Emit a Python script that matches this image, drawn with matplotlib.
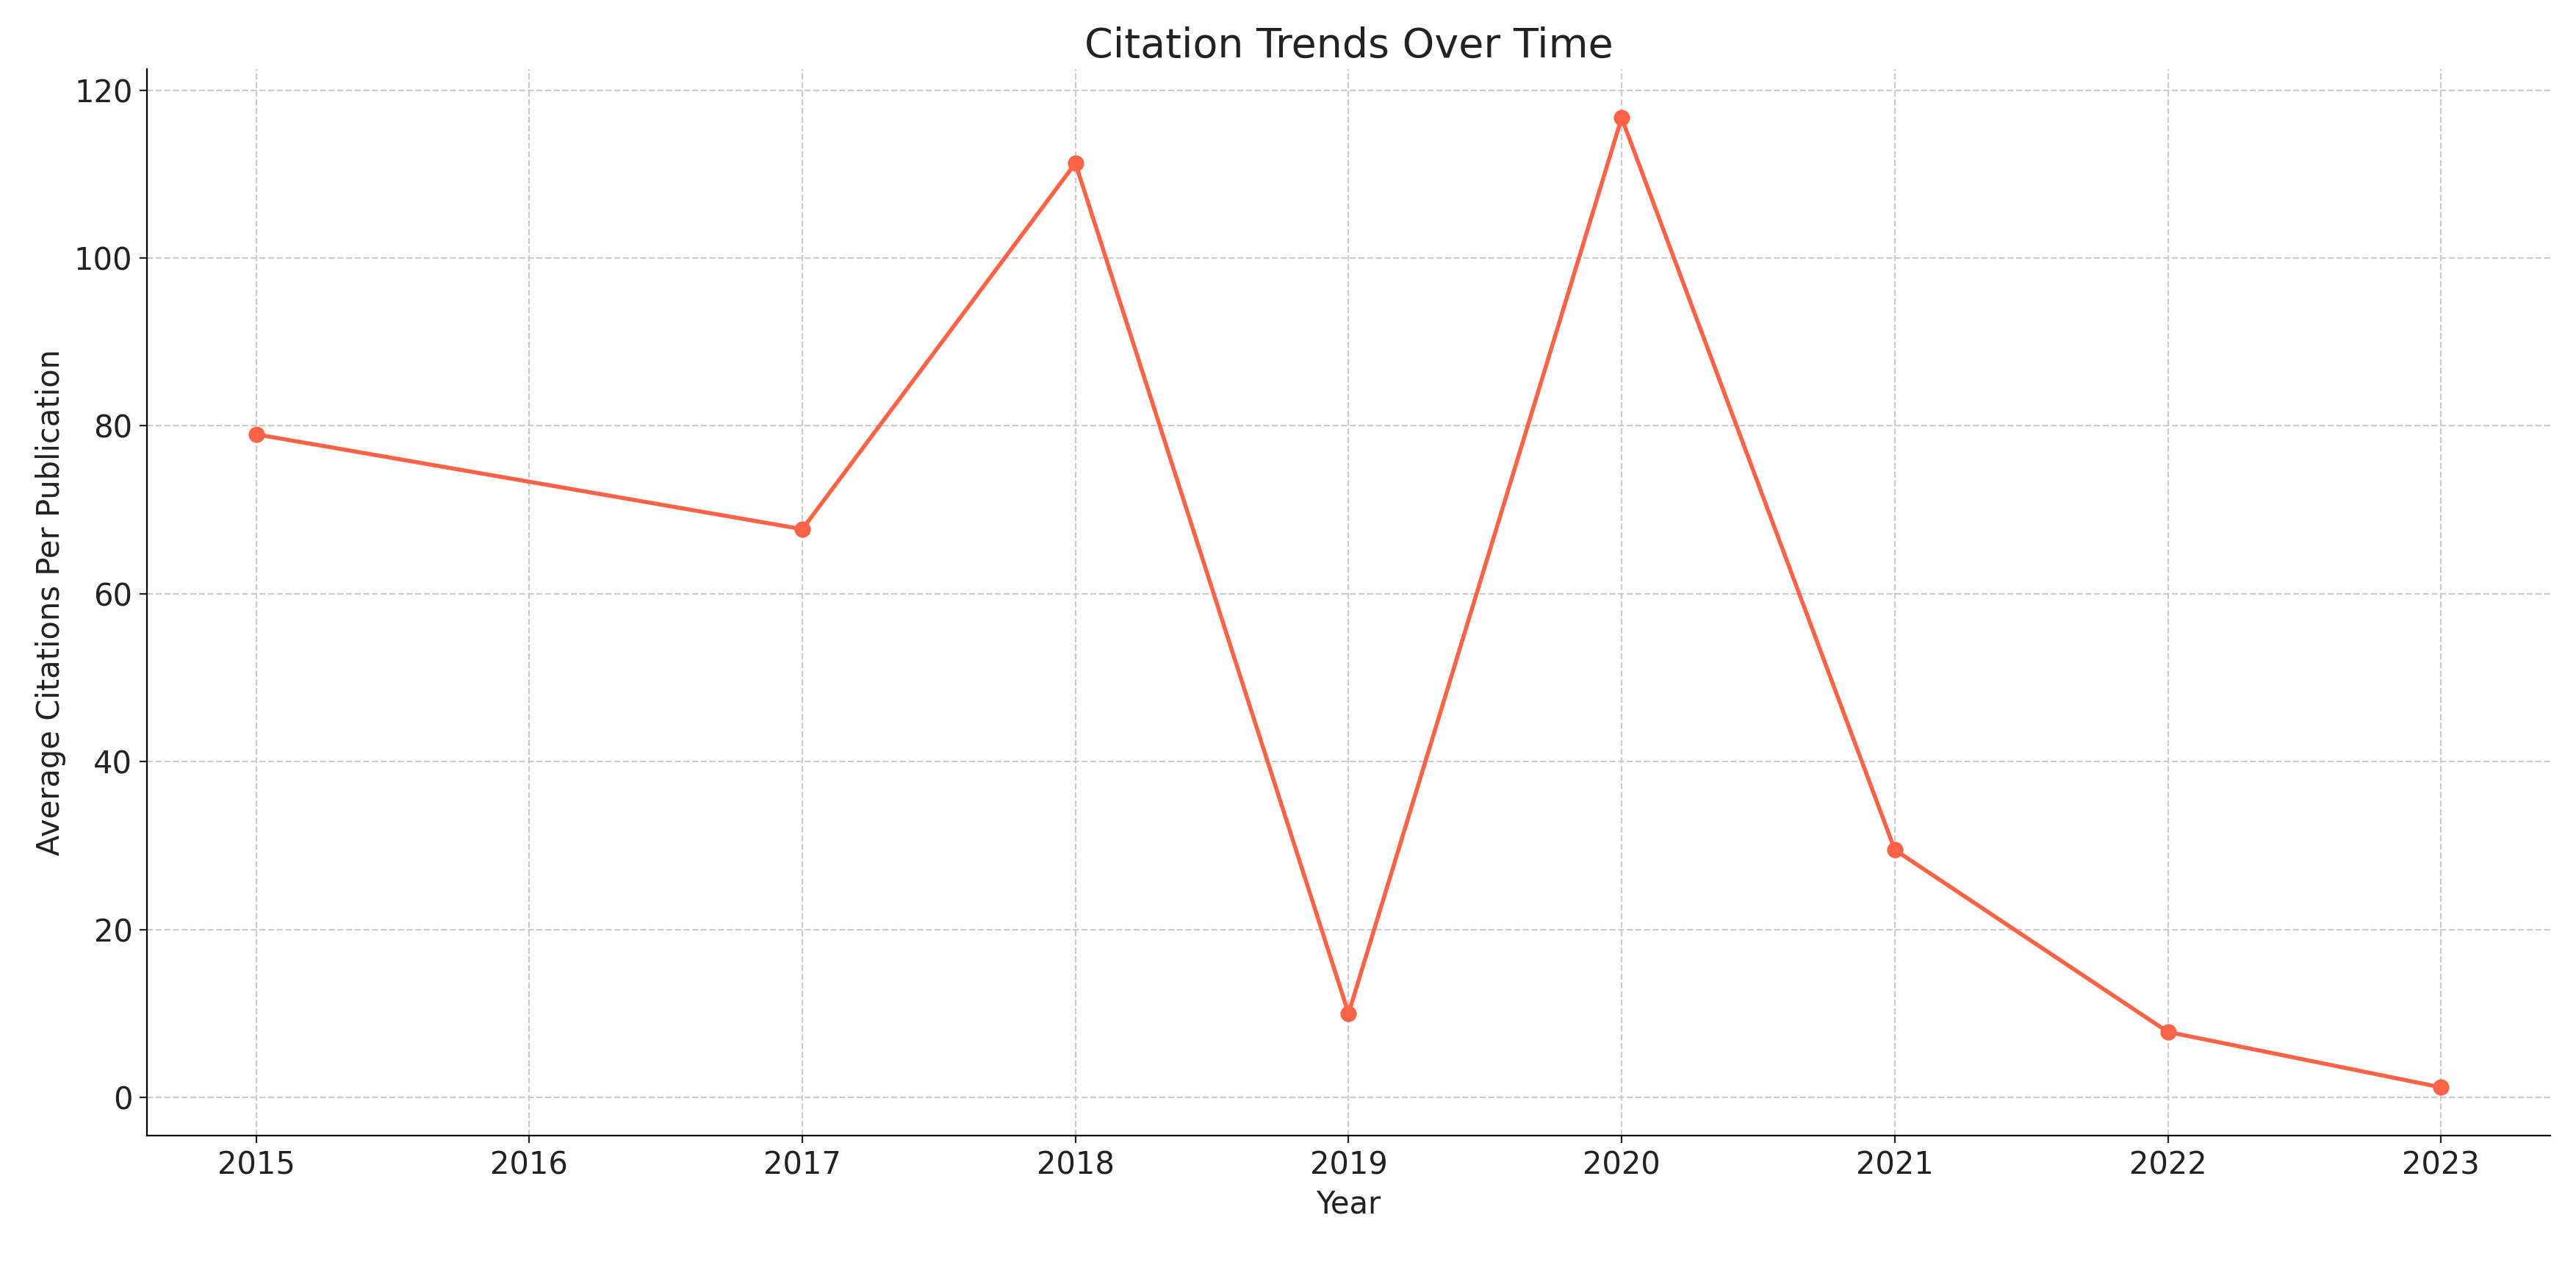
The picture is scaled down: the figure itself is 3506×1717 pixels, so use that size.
import matplotlib
matplotlib.use("Agg")
import matplotlib.pyplot as plt

years = [2015, 2017, 2018, 2019, 2020, 2021, 2022, 2023]
avg_citations = [79.0, 67.7, 111.3, 10.0, 116.7, 29.5, 7.8, 1.2]

fig, ax = plt.subplots(figsize=(17.53, 8.585), dpi=200)
ax.plot(years, avg_citations, color="#FF6347", marker="o", lw=2, ms=7)
ax.set_title("Citation Trends Over Time", fontsize=20, color="#222222")
ax.set_xlabel("Year", fontsize=15, color="#222222")
ax.set_ylabel("Average Citations Per Publication", fontsize=15, color="#222222")
ax.set_xticks(range(2015, 2024))
ax.set_yticks(range(0, 121, 20))
ax.tick_params(labelsize=15, colors="#222222")
ax.grid(True, ls="--", color="#cccccc", lw=0.8)
ax.spines["top"].set_visible(False)
ax.spines["right"].set_visible(False)
fig.subplots_adjust(left=0.057, right=0.99, top=0.945, bottom=0.10)
fig.savefig("out.png", dpi=200)
